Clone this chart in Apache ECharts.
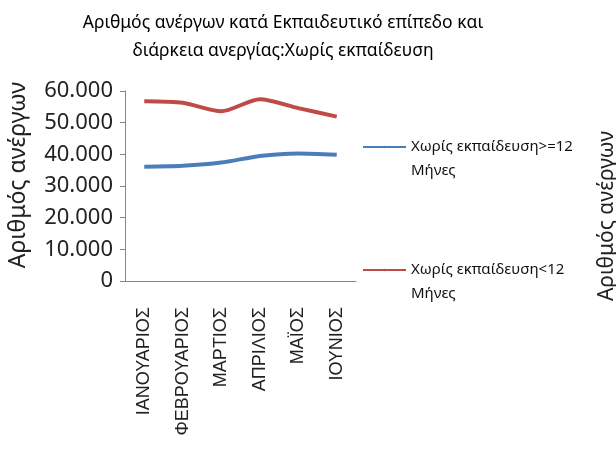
<!DOCTYPE html>
<html>
<head>
<meta charset="utf-8">
<script src="https://cdn.jsdelivr.net/npm/echarts@6/dist/echarts.min.js"></script>
<style>
  html, body { margin: 0; padding: 0; background: #fff; }
  #chart { width: 616px; height: 454px; }
</style>
</head>
<body>
<div id="chart"></div>
<script>
// Data
var months = ['ΙΑΝΟΥΑΡΙΟΣ', 'ΦΕΒΡΟΥΑΡΙΟΣ', 'ΜΑΡΤΙΟΣ', 'ΑΠΡΙΛΙΟΣ', 'ΜΑΪΟΣ', 'ΙΟΥΝΙΟΣ'];
var longTerm = [36100, 36400, 37400, 39500, 40300, 39900];   // >=12 Μήνες
var shortTerm = [56800, 56300, 53600, 57400, 54600, 51900];  // <12 Μήνες
var seriesNames = ['Χωρίς εκπαίδευση>=12 Μήνες', 'Χωρίς εκπαίδευση<12 Μήνες'];

var chart = echarts.init(document.getElementById('chart'));

function thousands(v) {
    return String(v).replace(/\B(?=(\d{3})+(?!\d))/g, '.');
}

chart.setOption({
    animation: false,
    textStyle: { fontFamily: '"Noto Sans", sans-serif' },

    // Two line title
    title: {
        text: 'Αριθμός ανέργων κατά Εκπαιδευτικό επίπεδο και\nδιάρκεια ανεργίας:Χωρίς εκπαίδευση',
        left: 278,
        textAlign: 'center',
        top: 4,
        textStyle: {
            fontSize: 17.5,
            fontWeight: 'normal',
            lineHeight: 28,
            color: '#000'
        }
    },

    grid: { left: 125, right: 260, top: 91, bottom: 173 },

    legend: {
        orient: 'vertical',
        left: 362,
        top: 111,
        padding: 0,
        itemWidth: 43,
        itemHeight: 3,
        itemGap: 51,
        data: seriesNames,
        // leading blank line keeps the icon level with the first text line
        formatter: function (name) {
            return '\n' + name.replace(' Μήνες', '\nΜήνες');
        },
        textStyle: {
            fontSize: 15,
            color: '#111',
            lineHeight: 24
        }
    },

    // Extra rotated caption on the right edge
    graphic: [{
        type: 'text',
        left: 597,
        top: 131,
        rotation: Math.PI / 2,
        style: {
            text: 'Αριθμός ανέργων',
            fontSize: 21,
            fontFamily: '"Noto Sans", sans-serif',
            fill: '#222'
        }
    }],

    xAxis: {
        type: 'category',
        data: months,
        boundaryGap: true,
        axisLine: { lineStyle: { color: '#868686', width: 1 } },
        axisTick: { length: 5, lineStyle: { color: '#868686' } },
        axisLabel: {
            rotate: 90,
            interval: 0,
            margin: 26,
            fontSize: 18,
            color: '#222',
            fontFamily: '"Liberation Sans", Arial, sans-serif'
        }
    },

    yAxis: {
        type: 'value',
        min: 0,
        max: 60000,
        interval: 10000,
        name: 'Αριθμός ανέργων',
        nameLocation: 'middle',
        nameGap: 95,
        nameTextStyle: { fontSize: 23, color: '#222', padding: [0, 0, 0, 22] },
        axisLine: { show: true, lineStyle: { color: '#868686', width: 1 } },
        axisTick: { show: true, length: 5, lineStyle: { color: '#868686' } },
        splitLine: { show: false },
        axisLabel: {
            fontSize: 22,
            color: '#222',
            margin: 12,
            formatter: thousands
        }
    },

    series: [
        {
            name: seriesNames[0],
            type: 'line',
            data: longTerm,
            smooth: 0.25,
            symbol: 'none',
            lineStyle: { color: '#4a7ebb', width: 4 },
            itemStyle: { color: '#4a7ebb' }
        },
        {
            name: seriesNames[1],
            type: 'line',
            data: shortTerm,
            smooth: 0.25,
            symbol: 'none',
            lineStyle: { color: '#be4b48', width: 4 },
            itemStyle: { color: '#be4b48' }
        }
    ]
});
</script>
</body>
</html>
